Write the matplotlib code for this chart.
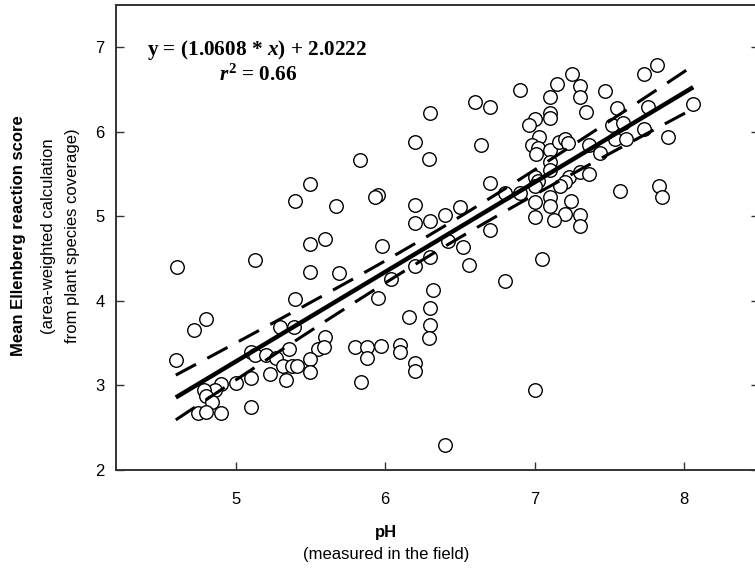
import numpy as np
import matplotlib
matplotlib.use("Agg")
import matplotlib.pyplot as plt

plt.rcParams['font.family'] = ['Liberation Sans', 'DejaVu Sans']
plt.rcParams['mathtext.fontset'] = 'custom'
plt.rcParams['mathtext.rm'] = 'Liberation Serif:bold'
plt.rcParams['mathtext.it'] = 'Liberation Serif:italic:bold'
plt.rcParams['mathtext.bf'] = 'Liberation Serif:bold'

# --- data (pH, mean Ellenberg reaction score) ---
ph = [
    4.61, 5.13, 5.50, 5.60, 5.50, 5.69, 5.40, 4.80, 4.72, 4.60, 5.30, 5.39, 5.60, 5.55,
    5.59, 5.36, 5.50, 5.50, 5.10, 5.13, 5.20, 5.27, 5.32, 5.38, 5.41, 5.23, 5.34, 5.10,
    5.00, 4.90, 4.86, 4.79, 4.80, 4.84, 4.75, 4.80, 4.90, 5.10, 5.50, 5.40, 5.67,
    6.60, 6.70, 6.30, 6.20, 6.64, 5.83, 6.29, 6.70, 5.95, 5.93, 6.20, 6.50, 6.40, 6.20,
    6.30, 6.70, 5.98, 6.42, 6.52, 6.30, 6.20, 6.56, 6.04, 5.95, 6.32, 6.30, 6.16, 6.30,
    6.29, 5.80, 5.88, 5.97, 5.88, 6.10, 6.10, 6.20, 6.20, 5.84, 6.40, 6.80, 6.90, 6.80,
    7.25, 7.15, 7.30, 6.90, 7.10, 7.30, 7.34, 7.10, 7.10, 7.00, 6.96, 7.03, 6.98, 7.02,
    7.01, 7.10, 7.16, 7.20, 7.22, 7.10, 7.10, 7.36, 7.44, 7.00, 7.02, 7.00, 7.23, 7.20,
    7.17, 7.30, 7.36, 7.10, 7.10, 7.00, 7.24, 7.20, 7.30, 7.30, 7.13, 7.00, 7.05, 7.00,
    7.82, 7.73, 7.47, 7.55, 8.06, 7.76, 7.52, 7.59, 7.73, 7.54, 7.61, 7.89, 7.57, 7.83,
    7.85,
]
score = [
    4.40, 4.48, 4.67, 4.73, 4.34, 4.33, 4.02, 3.79, 3.65, 3.30, 3.69, 3.69, 3.57, 3.43,
    3.45, 3.43, 3.31, 3.16, 3.39, 3.36, 3.36, 3.33, 3.23, 3.23, 3.23, 3.13, 3.07, 3.09,
    3.03, 3.02, 2.95, 2.95, 2.87, 2.80, 2.67, 2.69, 2.68, 2.74, 5.38, 5.18, 5.12,
    6.35, 6.29, 6.22, 5.88, 5.85, 5.67, 5.68, 5.40, 5.25, 5.23, 5.13, 5.11, 5.02, 4.92,
    4.95, 4.84, 4.65, 4.71, 4.64, 4.52, 4.41, 4.42, 4.26, 4.03, 4.13, 3.92, 3.81, 3.71,
    3.56, 3.46, 3.45, 3.47, 3.33, 3.48, 3.39, 3.27, 3.17, 3.04, 2.30, 5.28, 5.28, 4.24,
    6.68, 6.57, 6.54, 6.49, 6.41, 6.41, 6.24, 6.22, 6.16, 6.15, 6.08, 5.94, 5.84, 5.81,
    5.74, 5.78, 5.88, 5.92, 5.87, 5.64, 5.55, 5.84, 5.75, 5.47, 5.42, 5.36, 5.46, 5.41,
    5.36, 5.52, 5.50, 5.23, 5.12, 5.17, 5.18, 5.03, 5.02, 4.89, 4.96, 4.99, 4.49, 2.95,
    6.79, 6.68, 6.48, 6.28, 6.33, 6.29, 6.08, 6.10, 6.03, 5.91, 5.91, 5.94, 5.30, 5.36,
    5.23,
]
slope = 1.0608
intercept = -2.0222
eq_text = r'y = (1.0608 * $x$) + 2.0222'
r2_text = r'$r^{\mathrm{2}}$ = 0.66'

x = np.array(ph)
y = np.array(score)

fig = plt.figure(figsize=(7.55, 5.69), dpi=100)
ax = fig.add_axes([0.1536, 0.174, 0.8517, 0.8172])

ax.scatter(x, y, s=95, facecolors='white', edgecolors='black', linewidths=1.0, zorder=3)

# regression line and 95% confidence band
xs = np.linspace(x.min(), x.max(), 200)
ys = slope * xs + intercept
n = len(x)
resid = y - (slope * x + intercept)
s = np.sqrt(np.sum(resid ** 2) / (n - 2))
sxx = np.sum((x - x.mean()) ** 2)
half = 1.975 * s * np.sqrt(1.0 / n + (xs - x.mean()) ** 2 / sxx)
ax.plot(xs, ys, color='black', lw=3.2, solid_capstyle='butt', zorder=4)
ax.plot(xs, ys + half, color='black', lw=2.2, linestyle=(0, (7.5, 4.2)), dash_capstyle='butt', zorder=4)
ax.plot(xs, ys - half, color='black', lw=2.2, linestyle=(0, (7.5, 4.2)), dash_capstyle='butt', zorder=4)

ax.set_xlim(4.2, 8.5)
ax.set_ylim(2, 7.5)
ax.set_xticks([5, 6, 7, 8])
ax.set_yticks([2, 3, 4, 5, 6, 7])
ax.tick_params(axis='both', direction='in', length=6, width=1, labelsize=12, color='#333333')
ax.tick_params(axis='x', pad=16)
ax.tick_params(axis='y', pad=8, right=True)
for sp in ax.spines.values():
    sp.set_linewidth(1.4)
    sp.set_color('#333333')

ax.text(0.219, 0.903, eq_text, transform=ax.transAxes, ha='center', va='center', fontsize=15.3,
        family='Liberation Serif', fontweight='bold')
ax.text(0.221, 0.848, r2_text, transform=ax.transAxes, ha='center', va='center', fontsize=15.3,
        family='Liberation Serif', fontweight='bold')

fig.text(386 / 755, 1 - 532 / 569, 'pH', ha='center', va='center', fontsize=12, fontweight='bold')
fig.text(386 / 755, 1 - 554 / 569, '(measured in the field)', ha='center', va='center', fontsize=12)
fig.text(19 / 755, 1 - 236 / 569, 'Mean Ellenberg reaction score', rotation=90, ha='center', va='center',
         fontsize=12, fontweight='bold')
fig.text(49 / 755, 1 - 236 / 569, '(area-weighted calculation', rotation=90, ha='center', va='center', fontsize=12)
fig.text(72 / 755, 1 - 236 / 569, 'from plant species coverage)', rotation=90, ha='center', va='center', fontsize=12)

fig.savefig('out.png', dpi=100)
